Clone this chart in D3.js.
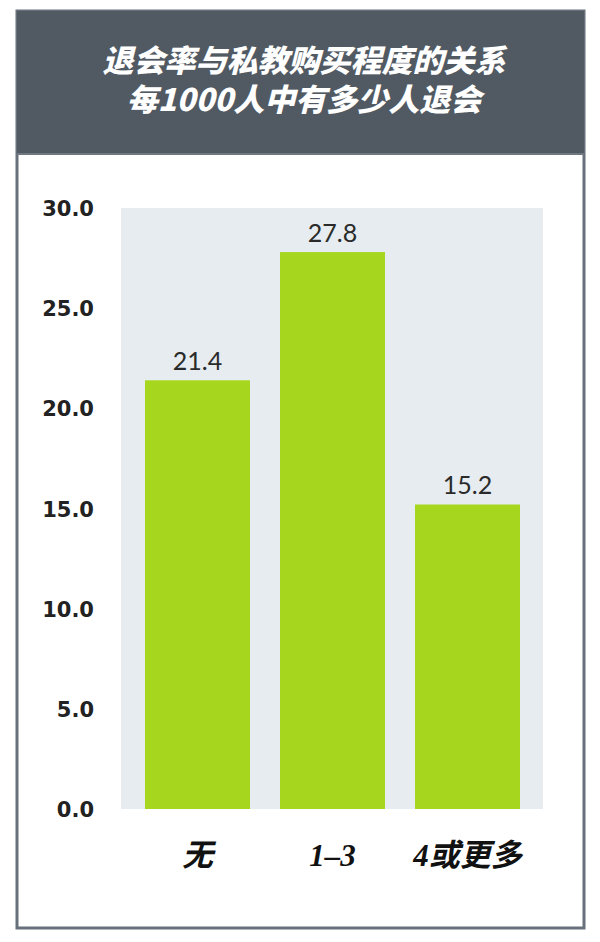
<!DOCTYPE html>
<html><head><meta charset="utf-8">
<script src="https://cdn.jsdelivr.net/npm/d3@7"></script>
<style>html,body{margin:0;padding:0;background:#fff;}</style>
</head><body>
<script>
const titleLines = ["退会率与私教购买程度的关系", "每1000人中有多少人退会"];
const categories = ["无", "1–3", "4或更多"];
const values = [21.4, 27.8, 15.2];
const valueLabels = ["21.4", "27.8", "15.2"];
const yTicks = [0, 5, 10, 15, 20, 25, 30];

const W = 600, H = 942;
const svg = d3.select("body").append("svg").attr("width", W).attr("height", H);

// frame
svg.append("rect").attr("x", 17).attr("y", 11).attr("width", 567).attr("height", 917)
  .attr("fill", "#fff").attr("stroke", "#66717b").attr("stroke-width", 3);
svg.append("rect").attr("x", 17).attr("y", 11).attr("width", 567).attr("height", 143)
  .attr("fill", "#515a63");
svg.append("line").attr("x1", 17).attr("x2", 584).attr("y1", 154).attr("y2", 154)
  .attr("stroke", "#6f7880").attr("stroke-width", 2);

// title
svg.selectAll("text.title").data(titleLines).join("text")
  .attr("x", 304).attr("y", (d, i) => 72 + i * 39)
  .attr("text-anchor", "middle")
  .attr("fill", "#fff")
  .attr("font-family", "'Noto Sans CJK SC', sans-serif")
  .attr("font-weight", 900).attr("font-style", "italic")
  .attr("font-size", 31)
  .text(d => d);

const plot = {x0: 121, x1: 543, y0: 208, y1: 809};
svg.append("rect").attr("x", plot.x0).attr("y", plot.y0)
  .attr("width", plot.x1 - plot.x0).attr("height", plot.y1 - plot.y0)
  .attr("fill", "#e6ecf0");

const x = d3.scaleBand().domain(categories).range([130, 535]).paddingInner(2 / 9).paddingOuter(1 / 9);
const y = d3.scaleLinear().domain([0, 30]).range([plot.y1, plot.y0]);

// y axis
const yAxis = d3.axisLeft(y).tickValues(yTicks).tickFormat(d3.format(".1f")).tickSize(0).tickPadding(0);
const ga = svg.append("g").attr("transform", `translate(94,0)`).call(yAxis);
ga.select(".domain").remove();
ga.selectAll("text").attr("font-family", "'DejaVu Sans', sans-serif").attr("font-weight", "bold")
  .attr("font-size", 21).attr("fill", "#222").attr("dy", "0.36em");

// bars
svg.selectAll("rect.bar").data(values).join("rect").attr("class", "bar")
  .attr("x", (d, i) => x(categories[i]))
  .attr("width", x.bandwidth())
  .attr("y", d => y(d))
  .attr("height", d => y(0) - y(d))
  .attr("fill", "#a6d71e");

// value labels
svg.selectAll("text.val").data(values).join("text").attr("class", "val")
  .attr("x", (d, i) => x(categories[i]) + x.bandwidth() / 2)
  .attr("y", d => y(d) - 10)
  .attr("text-anchor", "middle")
  .attr("font-family", "Lato, sans-serif").attr("font-size", 25).attr("fill", "#2a2a2a")
  .text((d, i) => valueLabels[i]);

// x labels
const xAxis = d3.axisBottom(x).tickSize(0).tickPadding(0);
const gx = svg.append("g").attr("transform", `translate(0,866)`).call(xAxis);
gx.select(".domain").remove();
gx.selectAll("text").attr("dy", 0)
  .attr("font-family", "'Liberation Serif', 'Noto Sans CJK SC', serif")
  .attr("font-weight", "bold").attr("font-style", "italic")
  .attr("font-size", 31).attr("fill", "#111");
</script>
</body></html>
